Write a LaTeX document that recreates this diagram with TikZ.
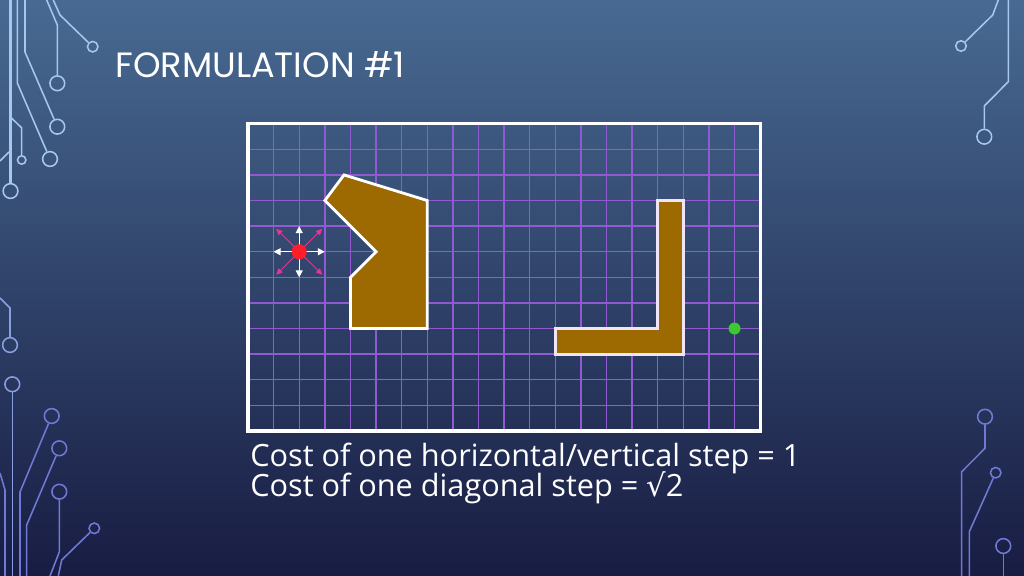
\documentclass[tikz,border=0pt]{standalone}
\usepackage{fontspec}
\setmainfont{Open Sans}
\newfontfamily\titlefont{Poppins}
\newfontfamily\symfont{DejaVu Sans}
\usetikzlibrary{arrows.meta}
\definecolor{bgtop}{RGB}{72,106,146}
\definecolor{bgmid}{RGB}{46,70,114}
\definecolor{bgbot}{RGB}{24,28,66}
\definecolor{gridviolet}{RGB}{145,90,210}
\definecolor{wallbrown}{RGB}{156,106,0}
\definecolor{tracelight}{RGB}{165,200,240}
\definecolor{tracemid}{RGB}{135,160,225}
\definecolor{tracedark}{RGB}{112,122,212}
\definecolor{movepink}{RGB}{232,52,150}
\definecolor{startred}{RGB}{255,30,40}
\definecolor{goalgreen}{RGB}{60,200,50}
\tikzstyle{trace} = [line width=1.1pt]
\tikzstyle{pad} = [circle, draw, line width=1.1pt, inner sep=0pt, minimum size=10.5pt]
\tikzstyle{smallpad} = [pad, minimum size=7.5pt]
\tikzstyle{gridline} = [gridviolet, line width=1pt]
\tikzstyle{wall} = [fill=wallbrown, draw=white, line width=2pt]
\tikzstyle{straight} = [white, line width=0.9pt, -{Triangle[length=5pt,width=5pt]}]
\tikzstyle{diagonal} = [movepink, line width=0.6pt, -{Triangle[length=4.5pt,width=4pt]}]
\tikzstyle{dot} = [circle, inner sep=0pt]
\tikzstyle{caption} = [anchor=base west, inner sep=0pt, text=white]

\begin{document}
\begin{tikzpicture}[x=0.025cm, y=-0.025cm]
	\useasboundingbox (0,0) rectangle (1024,576);
	\shade[top color=bgtop, middle color=bgmid, bottom color=bgbot] (0,0) rectangle (1024,576);
	% circuit traces, top left
	\begin{scope}[tracelight]
		\node[pad] (padA) at (10.5,191) {};
		\node[smallpad, minimum size=6pt] (padAs) at (21.7,160) {};
		\node[pad] (padB) at (50,159) {};
		\node[pad] (padC) at (57.3,126.7) {};
		\node[pad] (padD) at (57.3,83.3) {};
		\node[smallpad] (padE) at (92.7,46.7) {};
		\draw[trace, line width=1.8pt] (10.5,0) -- (padA);
		\draw[trace] (10.5,117) -- (21.7,128) -- (padAs);
		\draw[trace] (9,152) -- (0,161);
		\draw[trace] (17.3,0) -- (17.3,83) -- (padB);
		\draw[trace] (25,0) -- (25,52) -- (padC);
		\draw[trace] (46.7,0) -- (57.3,25) -- (padD);
		\draw[trace] (53.3,0) -- (60,15) -- (padE);
	\end{scope}
	% circuit traces, bottom left
	\begin{scope}[tracemid]
		\node[pad] (padF) at (10,345) {};
		\node[pad] (padG) at (12.3,384.3) {};
		\draw[trace] (0,298) -- (10,308) -- (padF);
		\draw[trace] (padG) -- (12.3,576);
	\end{scope}
	\begin{scope}[tracedark]
		\node[pad] (padH) at (51.7,416) {};
		\node[pad] (padI) at (59.3,448.3) {};
		\node[pad] (padJ) at (59.3,491.7) {};
		\node[smallpad] (padK) at (94.3,528.3) {};
		\draw[trace] (padH) -- (20,492) -- (20,576);
		\draw[trace] (padI) -- (26.7,525) -- (26.7,576);
		\draw[trace] (padJ) -- (59.3,552) -- (50,576);
		\draw[trace] (padK) -- (61.7,560) -- (58.3,576);
		\draw[trace] (0,473) -- (5,490) -- (5,576);
	\end{scope}
	% circuit traces, right
	\begin{scope}[tracelight]
		\node[smallpad] (padL) at (961,46) {};
		\node[pad] (padM) at (984.3,136.7) {};
		\draw[trace] (998.3,0) -- (992.7,15) -- (padL);
		\draw[trace] (1008.3,0) -- (1008.3,81.7) -- (984.3,106) -- (padM);
	\end{scope}
	\begin{scope}[tracedark]
		\node[pad] (padN) at (985,416.7) {};
		\node[smallpad] (padO) at (995.7,472.7) {};
		\node[pad] (padP) at (1003.3,546) {};
		\draw[trace] (padN) -- (985,448.3) -- (961.7,471.7) -- (961.7,576);
		\draw[trace] (padO) -- (969.3,531.7) -- (969.3,576);
		\draw[trace] (padP) -- (1003.3,576);
	\end{scope}
	\node[caption, font=\titlefont\fontsize{25}{30}\selectfont] (title) at (115,77.3) {FORMULATION \#1};
	% the grid world
	\begin{scope}[shift={(248,123.7)}, x=0.64cm, y=-0.64cm]
		\foreach \i in {1,...,19}
			\draw[gridline] (\i,0) -- (\i,12);
		\foreach \j in {1,...,11}
			\draw[gridline] (0,\j) -- (20,\j);
		\draw[wall] (3,3) -- (3.75,2) -- (7,3) -- (7,8) -- (4,8) -- (4,6) -- (5,5) -- cycle;
		\draw[wall, draw=white!85!gridviolet] (12,8) -- (16,8) -- (16,3) -- (17,3) -- (17,9) -- (12,9) -- cycle;
		\node[dot, fill=startred, minimum size=10.5pt] (start) at (2,5) {};
		\node[dot, fill=goalgreen, minimum size=8.5pt] (goal) at (19,8) {};
		\foreach \dx/\dy [count=\n] in {1/0,-1/0,0/1,0/-1}
		{
			\coordinate (s\n) at (2+\dx,5+\dy);
			\draw[straight] (start.center) -- (s\n);
		}
		\foreach \dx/\dy [count=\n] in {0.9/0.9,-0.9/0.9,0.9/-0.9,-0.9/-0.9}
		{
			\coordinate (d\n) at (2+\dx,5+\dy);
			\draw[diagonal] (start.center) -- (d\n);
		}
		\node[dot, fill=startred, minimum size=10.5pt] at (start) {};
		\draw[white, line width=2.2pt] (0,0) rectangle (20,12);
	\end{scope}
	\node[caption, font=\fontsize{21.8}{26}\selectfont] (costhv) at (250,466) {Cost of one horizontal/vertical step = 1};
	\node[caption, font=\fontsize{21.8}{26}\selectfont] (costdiag) at (250,496.7) {Cost of one diagonal step = {\symfont √}2};
\end{tikzpicture}
\end{document}
